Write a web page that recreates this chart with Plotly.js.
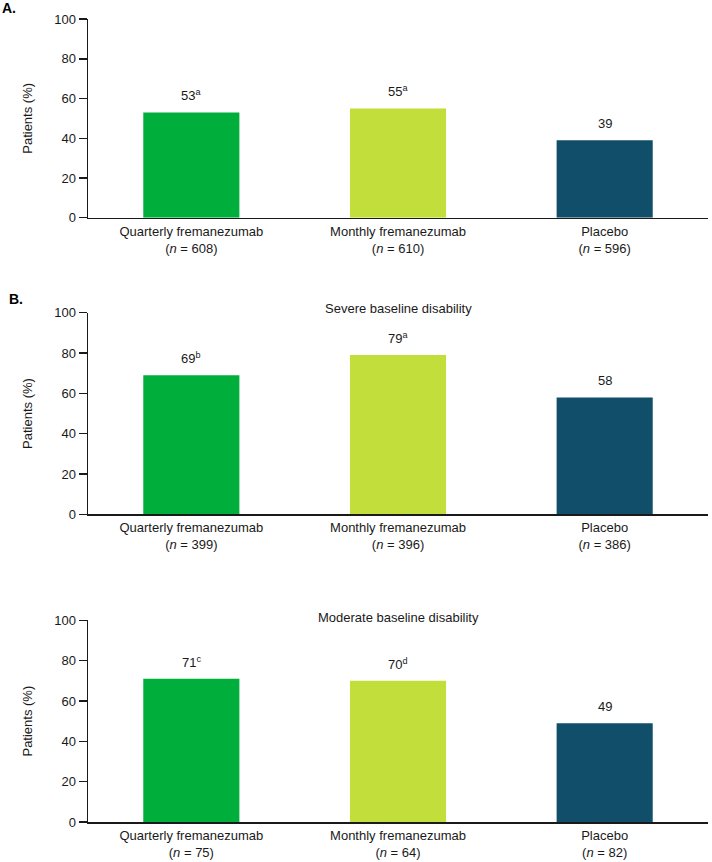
<!DOCTYPE html>
<html>
<head>
<meta charset="utf-8">
<script src="https://cdn.plot.ly/plotly-3.0.1.min.js"></script>
<style>
  html, body { margin: 0; padding: 0; background: #ffffff; }
  #chart { width: 712px; height: 862px; }
</style>
</head>
<body>
<div id="chart"></div>
<script>
// ---- Data ----
const categories = ['Quarterly fremanezumab', 'Monthly fremanezumab', 'Placebo'];
const nOverall = [608, 610, 596];
const nSevere = [399, 396, 386];
const nModerate = [75, 64, 82];
const pctOverall = [53, 55, 39];
const pctSevere = [69, 79, 58];
const pctModerate = [71, 70, 49];
const supOverall = ['a', 'a', ''];
const supSevere = ['b', 'a', ''];
const supModerate = ['c', 'd', ''];
const yTicks = [0, 20, 40, 60, 80, 100];
const panelTitles = ['', 'Severe baseline disability', 'Moderate baseline disability'];

// ---- Styles ----
const barColors = ['#00ae3c', '#c1de3a', '#114e6a'];
const FONT = 'Liberation Sans, Arial, Helvetica, sans-serif';
const TXT = '#1a1a1a';

const panels = [
  { pct: pctOverall, n: nOverall, sup: supOverall, ax: '', dom: [0.7525, 1.0] },
  { pct: pctSevere, n: nSevere, sup: supSevere, ax: '2', dom: [0.3831, 0.6343] },
  { pct: pctModerate, n: nModerate, sup: supModerate, ax: '3', dom: [0.0, 0.2512] }
];

const traces = [];
const annotations = [];
const layout = {
  width: 712, height: 862,
  margin: { l: 88, r: 4, t: 19, b: 40 },
  paper_bgcolor: '#ffffff', plot_bgcolor: '#ffffff',
  showlegend: false,
  font: { family: FONT, size: 13, color: TXT },
  bargap: 0.535
};

panels.forEach((p, i) => {
  const xa = 'x' + p.ax, ya = 'y' + p.ax;
  traces.push({
    type: 'bar',
    x: categories,
    y: p.pct,
    xaxis: xa, yaxis: ya,
    width: 0.465,
    marker: { color: barColors, line: { width: 0 } },
    hoverinfo: 'skip'
  });
  layout['xaxis' + p.ax] = {
    anchor: ya,
    domain: [0, 1],
    type: 'category',
    range: [-0.5, 2.5],
    tickvals: categories,
    ticktext: categories.map((c, k) => c + '<br>(<i>n</i> = ' + p.n[k] + ')'),
    ticks: '',
    ticklabelstandoff: 1,
    showline: true, linecolor: '#1a1a1a', linewidth: 1.5,
    showgrid: false, zeroline: false,
    tickfont: { family: FONT, size: 13, color: TXT },
    fixedrange: true
  };
  layout['yaxis' + p.ax] = {
    anchor: xa,
    domain: p.dom,
    range: [0, 100],
    tickvals: yTicks,
    ticks: 'outside', ticklen: 8, tickwidth: 1.5, tickcolor: '#1a1a1a',
    showline: true, linecolor: '#1a1a1a', linewidth: 1.5,
    showgrid: false, zeroline: false,
    tickfont: { family: FONT, size: 13, color: TXT },
    title: { text: 'Patients (%)', font: { family: FONT, size: 13, color: TXT }, standoff: 18 },
    fixedrange: true
  };
  p.pct.forEach((v, k) => {
    annotations.push({
      xref: xa, yref: ya, x: categories[k], y: v,
      text: v + (p.sup[k] ? '<sup>' + p.sup[k] + '</sup>' : ''),
      showarrow: false, yanchor: 'bottom', yshift: 7,
      font: { family: FONT, size: 13, color: TXT }
    });
  });
});

// Panel subtitles
annotations.push({ xref: 'paper', yref: 'paper', x: 0.5, y: 0.6393, yanchor: 'middle',
  text: panelTitles[1], showarrow: false, font: { family: FONT, size: 13, color: TXT } });
annotations.push({ xref: 'paper', yref: 'paper', x: 0.5, y: 0.255, yanchor: 'middle',
  text: panelTitles[2], showarrow: false, font: { family: FONT, size: 13, color: TXT } });

// Panel letters
annotations.push({ xref: 'paper', yref: 'paper', x: -0.142, y: 1.0137, xanchor: 'left', yanchor: 'middle',
  text: '<b>A.</b>', showarrow: false, font: { family: FONT, size: 14, color: '#000' } });
annotations.push({ xref: 'paper', yref: 'paper', x: -0.131, y: 0.6508, xanchor: 'left', yanchor: 'middle',
  text: '<b>B.</b>', showarrow: false, font: { family: FONT, size: 14, color: '#000' } });

layout.annotations = annotations;

Plotly.newPlot('chart', traces, layout, { displayModeBar: false, staticPlot: true });
</script>
</body>
</html>
